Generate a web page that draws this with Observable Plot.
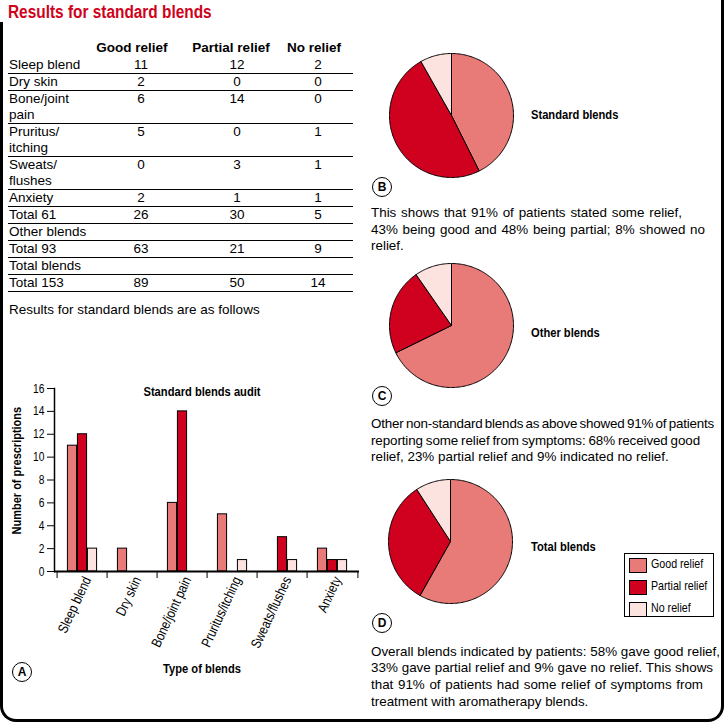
<!DOCTYPE html>
<html><head><meta charset="utf-8">
<script src="https://cdn.jsdelivr.net/npm/d3@7"></script>
<script src="https://cdn.jsdelivr.net/npm/@observablehq/plot@0.6"></script>
<style>
body{margin:0;background:#fff;}
#page{position:relative;width:725px;height:723px;overflow:hidden;font-family:"Liberation Sans",Arial,sans-serif;color:#000;}
.abs{position:absolute;white-space:nowrap;}
.narrow{transform:scaleX(0.82);transform-origin:left center;}
.narrowc{transform:scaleX(0.82);transform-origin:center center;}
.b{font-weight:bold;}
.circ{width:18px;height:18px;border:1px solid #000;border-radius:50%;text-align:center;line-height:18px;font-weight:bold;font-size:12px;}
.para{font-size:13.4px;line-height:16.7px;}
.para span{display:inline-block;white-space:nowrap;}
.row{position:absolute;left:8px;width:345px;border-bottom:1px solid #000;font-size:13.5px;line-height:16px;}
.num{position:absolute;top:0;width:40px;text-align:center;}
</style></head><body><div id="page"></div>
<script>
// ---- data ----
const categories = ["Sleep blend","Dry skin","Bone/joint pain","Pruritus/itching","Sweats/flushes","Anxiety"];
const series = ["Good relief","Partial relief","No relief"];
const goodRelief = [11,2,6,5,0,2];
const partialRelief = [12,0,14,0,3,1];
const noRelief = [2,0,0,1,1,1];
const tableLabels = [["Sleep blend"],["Dry skin"],["Bone/joint","pain"],["Pruritus/","itching"],["Sweats/","flushes"],["Anxiety"],["Total 61"],["Other blends"],["Total 93"],["Total blends"],["Total 153"]];
const standardTotals = [26,30,5];
const otherTotals = [63,21,9];
const allTotals = [89,50,14];
const yTicks = [0,2,4,6,8,10,12,14,16];
const colors = ["#e87a78","#d0001f","#fde3df"];
const pieTitles = ["Standard blends","Other blends","Total blends"];
const pieLetters = ["B","C","D"];
const paragraphs = [
 ["This shows that 91% of patients stated some relief,","43% being good and 48% being partial; 8% showed no","relief."],
 ["Other non-standard blends as above showed 91% of patients","reporting some relief from symptoms: 68% received good","relief, 23% partial relief and 9% indicated no relief."],
 ["Overall blends indicated by patients: 58% gave good relief,","33% gave partial relief and 9% gave no relief. This shows","that 91% of patients had some relief of symptoms from","treatment with aromatherapy blends."]
];
// justified line right edges (null = ragged last line)
const lineEnds = [[682,705,null],[714,700,null],[720,713,703,null]];

const page = document.getElementById("page");
function add(html, style, cls){const d=document.createElement("div");d.className="abs "+(cls||"");d.innerHTML=html;Object.assign(d.style,style);page.appendChild(d);return d;}

// frame
add("",{left:"0px",top:"-10px",width:"724px",height:"732px",boxSizing:"border-box",borderLeft:"3px solid #000",borderRight:"3px solid #000",borderBottom:"3px solid #000",borderRadius:"0 0 16px 16px"});
add("",{left:"0px",top:"0px",width:"4px",height:"22px",background:"#fff"});

// title
add("Results for standard blends",{left:"8px",top:"0px",fontSize:"18.8px",lineHeight:"24px",color:"#d0021b"},"narrow b");

// table header
const headCenters=[132,231,314], numCenters=[141,237,318];
series.forEach((s,j)=>add(s,{left:(headCenters[j]-50)+"px",top:"40px",width:"100px",textAlign:"center",fontSize:"13.5px",lineHeight:"16px"},"b"));
const rowVals=[...categories.map((c,i)=>[goodRelief[i],partialRelief[i],noRelief[i]]),standardTotals,null,otherTotals,null,allTotals];
let rowTop=57;
tableLabels.forEach((lab,i)=>{
  const r=document.createElement("div");r.className="row";
  r.style.top=rowTop+"px";r.style.height=(16*lab.length)+"px";
  let h='<div style="position:absolute;left:1px;top:0">'+lab.join("<br>")+'</div>';
  if(rowVals[i]) rowVals[i].forEach((v,j)=>{h+='<div class="num" style="left:'+(numCenters[j]-20-8)+'px">'+v+'</div>';});
  r.innerHTML=h;page.appendChild(r);
  rowTop+=16*lab.length+1;
});
add("Results for standard blends are as follows",{left:"9px",top:"302px",fontSize:"13.5px",lineHeight:"16px"});

// condense svg text horizontally (along its own baseline)
function condense(svg, sel, k){
  svg.querySelectorAll(sel).forEach(el=>{
    const t=el.getAttribute("transform")||"", xa=el.getAttribute("x");
    let pre="";
    if(xa!==null && xa!=="" && !isNaN(+xa)){pre=`translate(${+xa},0) `;el.removeAttribute("x");}
    el.setAttribute("transform",`${t} ${pre}scale(${k},1)`);
  });
}

// bar chart
const barData=[];
categories.forEach((c,i)=>{[goodRelief[i],partialRelief[i],noRelief[i]].forEach((v,j)=>barData.push({cat:c,s:series[j],v}));});
const step=(359-54)/categories.length;
const bar=Plot.plot({
  width:360,height:290,marginLeft:54,marginRight:1,marginTop:12,marginBottom:95,
  style:{fontFamily:'"Liberation Sans",Arial,sans-serif',fontSize:"12px",background:"transparent",color:"#000"},
  x:{domain:categories,padding:0},
  y:{domain:[0,16]},
  color:{domain:series,range:colors},
  marks:[
    ...series.map((s,j)=>Plot.barY(barData.filter(d=>d.s===s&&d.v>0),{x:"cat",y:"v",fill:"s",stroke:"#000",strokeWidth:1,insetLeft:(step-10)/2,insetRight:(step-10)/2,dx:(j-1)*10})),
    Plot.axisY({ticks:yTicks,tickSize:7,tickPadding:3,label:null,fontSize:12.5}),
    Plot.axisX({tickSize:0,tickRotate:-65,tickPadding:6,dx:5,label:null,fontSize:14}),
    Plot.axisX({tickSize:7,dx:-step/2,text:null,label:null}),
    Plot.axisX([categories[categories.length-1]],{tickSize:7,dx:step/2,text:null,label:null}),
    Plot.frame({anchor:"left",strokeWidth:1.5}),
    Plot.ruleY([0],{strokeWidth:2})
  ]
});
condense(bar,"text",0.82);
add("",{left:"0px",top:"376px"}).appendChild(bar);
add("Standard blends audit",{left:"102px",top:"384px",width:"200px",textAlign:"center",fontSize:"13.6px",lineHeight:"16px"},"narrowc b");
add("Number of prescriptions",{left:"-53px",top:"469px",width:"140px",textAlign:"center",fontSize:"13.4px",lineHeight:"16px",transform:"rotate(-90deg) scaleX(0.82)"},"b");
add("Type of blends",{left:"102px",top:"661px",width:"200px",textAlign:"center",fontSize:"13.6px",lineHeight:"16px"},"narrowc b");
add("A",{left:"12px",top:"662px"},"circ");

// pies
function pieRows(values){
  const arcs=d3.pie().sort(null).value(d=>d)(values);
  const rows=[];
  arcs.forEach((a,i)=>{
    const n=Math.max(2,Math.ceil((a.endAngle-a.startAngle)/0.02));
    rows.push({s:series[i],x:0,y:0});
    for(let k=0;k<=n;k++){const t=a.startAngle+(a.endAngle-a.startAngle)*k/n;rows.push({s:series[i],x:Math.sin(t),y:Math.cos(t)});}
    rows.push({s:series[i],x:0,y:0});
  });
  return rows;
}
const pieCenters=[[451,114.5],[451,324.5],[450,541]];
const pieValues=[standardTotals,otherTotals,allTotals];
const titleY=[115,333,547];
const letterY=[187,396,623];
const paraTop=[205,416,643.5];
pieValues.forEach((vals,k)=>{
  const p=Plot.plot({width:130,height:130,margin:3,
    style:{background:"transparent"},
    x:{domain:[-1,1],axis:null},y:{domain:[-1,1],axis:null},
    color:{domain:series,range:colors},
    marks:[Plot.line(pieRows(vals),{x:"x",y:"y",z:"s",fill:"s",stroke:"#000",strokeWidth:1,strokeLinejoin:"round"})]});
  add("",{left:(pieCenters[k][0]-65)+"px",top:(pieCenters[k][1]-65)+"px"}).appendChild(p);
  add(pieTitles[k],{left:"531px",top:(titleY[k]-8)+"px",fontSize:"13.6px",lineHeight:"16px"},"narrow b");
  add(pieLetters[k],{left:(382-10)+"px",top:(letterY[k]-10)+"px"},"circ");
  const para=add(paragraphs[k].map(l=>'<span>'+l+'</span>').join("<br>"),{left:"371px",top:paraTop[k]+"px"},"para");
  para.querySelectorAll("span").forEach((sp,li)=>{
    const end=lineEnds[k][li]; if(end==null) return;
    const w=sp.getBoundingClientRect().width, txt=sp.textContent, n=(txt.match(/ /g)||[]).length;
    const diff=end-371-w;
    if(diff<0){sp.style.letterSpacing=(diff*0.55/txt.length)+"px";sp.style.wordSpacing=(diff*0.45/Math.max(n,1))+"px";}
    else if(n) sp.style.wordSpacing=(diff/n)+"px";
  });
});

// legend
let lg='';
series.forEach((s,j)=>{lg+='<div style="position:absolute;left:4px;top:'+(4+j*22)+'px;width:16px;height:13px;border:1px solid #000;background:'+colors[j]+'"></div><div class="narrow" style="position:absolute;left:26px;top:'+(2+j*22)+'px;font-size:13px;line-height:16px">'+s+'</div>';});
add(lg,{left:"624px",top:"553px",width:"88px",height:"62px",border:"1px solid #000"});
</script></body></html>
